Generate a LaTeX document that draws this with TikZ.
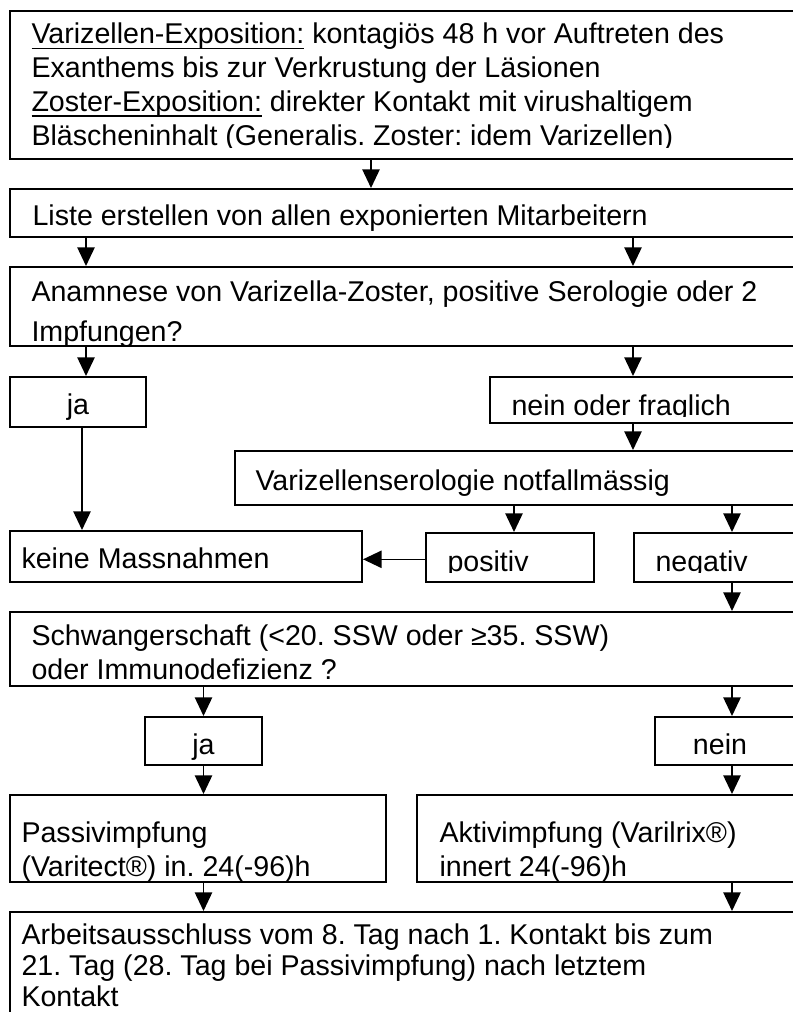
\documentclass[tikz,border=0pt]{standalone}
\usepackage{fontspec}
\setmainfont{Liberation Sans}
\usetikzlibrary{arrows.meta,fit}
\frenchspacing

\newcommand{\unterlinie}[1]{\setbox0\hbox{#1}\rlap{\rule[-4.2pt]{\wd0}{1.2pt}}\box0\relax}

\tikzset{every picture/.style={line width=0.75pt}}
\tikzset{
  box/.style={draw, line width=1.5pt, inner sep=0pt},
  txt/.style={anchor=north west, inner sep=0pt, align=left, font=\fontsize{21.45}{25.3}\selectfont, execute at begin node=\strut},
  mid/.style={anchor=base, inner sep=0pt, font=\fontsize{21.45}{25.3}\selectfont},
  arr/.style={line width=1.2pt, -{Triangle[length=14pt,width=13pt]}}
}

\begin{document}
\begin{tikzpicture}[x=0.75pt,y=0.75pt,yscale=-1,xscale=1]
\useasboundingbox (0,0) rectangle (792,1012);

%Shape: Rectangle
\node[box, fit={(10,10.7) (815,159.5)}] (expo) {};
\node[box, fit={(10,189) (815,237.5)}] (liste) {};
\node[box, fit={(10,267) (815,346)}] (anam) {};
\node[box, fit={(10,377) (146,427)}] (ja) {};
\node[box, fit={(490,377) (815,423)}] (nein) {};
\node[box, fit={(235,451) (815,505)}] (sero) {};
\node[box, fit={(10,531) (362,582)}] (keine) {};
\node[box, fit={(426,533) (594,582)}] (pos) {};
\node[box, fit={(634,533) (815,582)}] (neg) {};
\node[box, fit={(10,612) (815,686)}] (schw) {};
\node[box, fit={(145,717) (262,765)}] (jazwei) {};
\node[box, fit={(655,717) (815,765)}] (neinzwei) {};
\node[box, fit={(10,795) (386,882)}] (passiv) {};
\node[box, fit={(417,795) (815,882)}] (aktiv) {};
\node[box, fit={(10,912) (815,1040)}] (arbeit) {};

% Text Node
\begin{scope}
\clip (10,10.7) rectangle (815,148);
\node[txt] (expotext) at (31,22.6) {\unterlinie{Varizellen-Exposition:} kontagiös 48 h vor Auftreten des\\Exanthems bis zur Verkrustung der Läsionen\\\unterlinie{Zoster-Exposition:} direkter Kontakt mit virushaltigem\\Bläscheninhalt (Generalis. Zoster: idem Varizellen)};
\end{scope}
% Text Node
\node[txt] (listetext) at (32,201.4) {Liste erstellen von allen exponierten Mitarbeitern};
% Text Node
\begin{scope}
\clip (10,267) rectangle (815,345);
\node[txt] (anamtext) at (31,280.4) {Anamnese von Varizella-Zoster, positive Serologie oder 2\\[4.7pt]Impfungen?};
\end{scope}
% Text Node
\node[mid] (jatext) at (78,414) {ja};
% Text Node
\begin{scope}
\clip (490,377) rectangle (815,416);
\node[txt] (neintext) at (511,391.4) {nein oder fraglich};
\end{scope}
% Text Node
\node[txt] (serotext) at (255,466.4) {Varizellenserologie notfallmässig};
% Text Node
\node[txt] (keinetext) at (21,544.4) {keine Massnahmen};
% Text Node
\begin{scope}
\clip (426,533) rectangle (815,572);
\node[txt] (postext) at (447,547.4) {positiv};
\node[txt] (negtext) at (655,547.4) {negativ};
\end{scope}
% Text Node
\node[txt] (schwtext) at (31,624.4) {Schwangerschaft (<20. SSW oder ≥35. SSW)\\oder Immunodefizienz ?};
% Text Node
\node[mid] (jazweitext) at (203.5,754) {ja};
% Text Node
\node[mid] (neinzweitext) at (720,754) {nein};
% Text Node
\node[txt] (passivtext) at (21,821.4) {Passivimpfung\\(Varitect®) in. 24(-96)h};
% Text Node
\node[txt] (aktivtext) at (439,821.4) {Aktivimpfung (Varilrix®)\\innert 24(-96)h};
% Text Node
\node[txt, font=\fontsize{21.45}{23.25}\selectfont] (arbeittext) at (21,923.3) {Arbeitsausschluss vom 8. Tag nach 1. Kontakt bis zum\\21. Tag (28. Tag bei Passivimpfung) nach letztem\\Kontakt};

% Arrow columns
\coordinate (c1) at (371,0);
\coordinate (c2) at (86,0);
\coordinate (c3) at (633,0);
\coordinate (c4) at (82,0);
\coordinate (c5) at (514,0);
\coordinate (c6) at (732,0);
\coordinate (c7) at (203.5,0);
\coordinate (r1) at (0,559.3);

%Straight Lines
\draw[arr] (expo.south -| c1) -- (liste.north -| c1);
\draw[arr] (liste.south -| c2) -- (anam.north -| c2);
\draw[arr] (liste.south -| c3) -- (anam.north -| c3);
\draw[arr] (anam.south -| c2) -- (ja.north -| c2);
\draw[arr] (anam.south -| c3) -- (nein.north -| c3);
\draw[arr] (nein.south -| c3) -- (sero.north -| c3);
\draw[arr] (ja.south -| c4) -- (keine.north -| c4);
\draw[arr] (sero.south -| c5) -- (pos.north -| c5);
\draw[arr] (sero.south -| c6) -- (neg.north -| c6);
\draw[arr] (pos.west |- r1) -- (keine.east |- r1);
\draw[arr] (neg.south -| c6) -- (schw.north -| c6);
\draw[arr] (schw.south -| c7) -- (jazwei.north -| c7);
\draw[arr] (schw.south -| c6) -- (neinzwei.north -| c6);
\draw[arr] (jazwei.south -| c7) -- (passiv.north -| c7);
\draw[arr] (neinzwei.south -| c6) -- (aktiv.north -| c6);
\draw[arr] (passiv.south -| c7) -- (arbeit.north -| c7);
\draw[arr] (aktiv.south -| c6) -- (arbeit.north -| c6);

\end{tikzpicture}
\end{document}
